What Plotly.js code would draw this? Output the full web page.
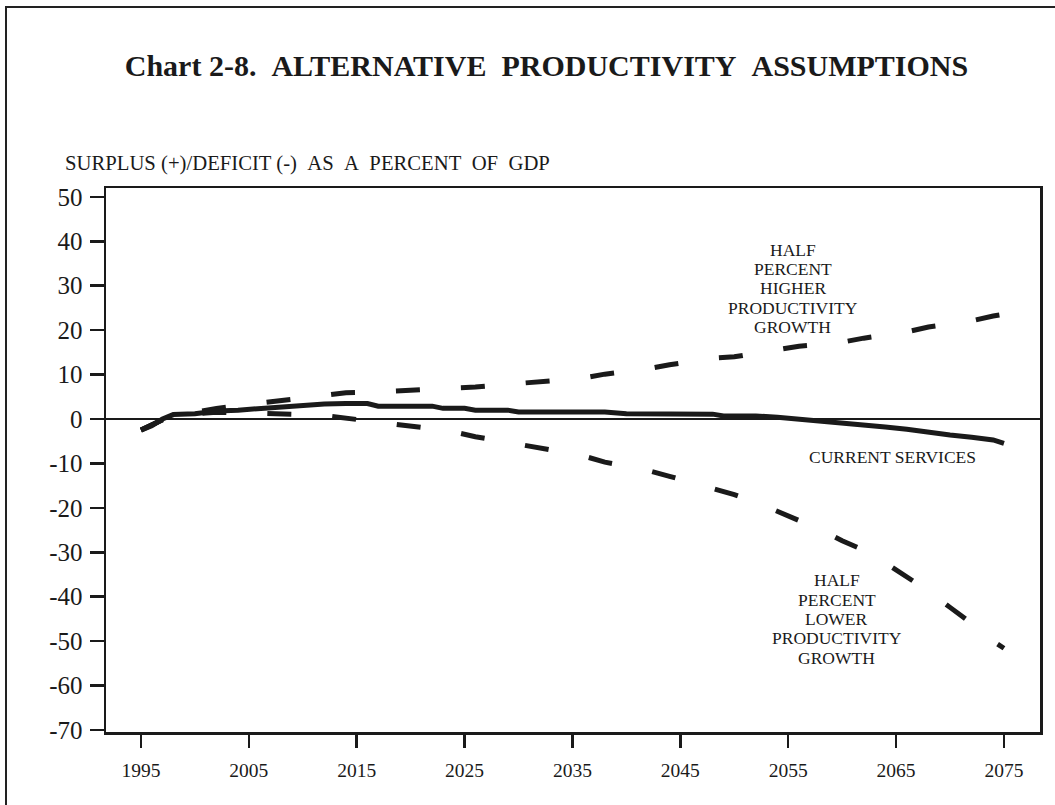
<!DOCTYPE html>
<html>
<head>
<meta charset="utf-8">
<script src="https://cdn.plot.ly/plotly-3.0.1.min.js"></script>
<style>
html,body{margin:0;padding:0;background:#fff;}
#wrap{position:relative;width:1055px;height:805px;}
#chart{position:absolute;left:0;top:0;width:1055px;height:805px;}
#frame{position:absolute;left:5px;top:6px;width:1100px;height:900px;border-left:2px solid #222;border-top:2px solid #222;pointer-events:none;}
</style>
</head>
<body>
<div id="wrap"><div id="chart"></div><div id="frame"></div></div>
<script>
// Current services (solid)
const yearsCurrent = [1995,1996,1997,1998,2000,2002,2004,2006,2008,2010,2012,2014,2016,2017,2020,2022,2023,2025,2026,2029,2030,2038,2040,2048,2049,2052,2054,2056,2058,2060,2062,2064,2066,2068,2070,2072,2074,2075];
const currentServices = [-2.5,-1.5,0,1,1.2,1.8,2.0,2.4,2.7,3.0,3.4,3.5,3.5,2.9,2.9,2.9,2.4,2.4,2.0,2.0,1.6,1.6,1.2,1.1,0.7,0.7,0.4,0.0,-0.5,-0.9,-1.3,-1.8,-2.3,-3.0,-3.6,-4.1,-4.7,-5.5];

// Alternative productivity scenarios (dashed)
const yearsAlt = [1995,1997,1998,2000,2002,2004,2006,2008,2010,2012,2014,2016,2018,2020,2022,2024,2026,2028,2030,2032,2034,2036,2038,2040,2042,2044,2046,2048,2050,2052,2054,2056,2058,2060,2062,2064,2066,2068,2070,2072,2074,2075];
const higherProductivity = [-2.5,0,1,1.5,2.4,3.0,3.6,4.0,4.6,5.2,5.9,6.0,6.3,6.4,6.7,7.0,7.2,7.6,8.1,8.4,8.8,9.2,10.1,10.7,11.3,12.2,13.0,13.7,14.0,14.8,15.5,16.4,16.8,17.3,18.2,18.9,19.6,20.7,21.5,22.1,23.2,23.6];
const lowerProductivity = [-2.5,0,1,1.2,1.5,1.4,1.3,1.3,1.0,0.8,0.2,-0.3,-0.8,-1.5,-2.2,-2.9,-4.0,-4.8,-5.6,-6.5,-7.4,-8.3,-9.7,-10.6,-11.6,-12.9,-14.2,-15.6,-17.0,-18.7,-20.7,-22.6,-24.9,-27.4,-29.5,-32.4,-35.5,-38.7,-42.4,-46.0,-50.0,-51.6];

// Axis ticks
const yTickVals = [50,40,30,20,10,0,-10,-20,-30,-40,-50,-60,-70];
const yTickText = ["50","40","30","20","10","0","-10","-20","-30","-40","-50","-60","-70"];
const xTickVals = [1995,2005,2015,2025,2035,2045,2055,2065,2075];
const xTickText = ["1995","2005","2015","2025","2035","2045","2055","2065","2075"];

// Texts
const chartTitle = "Chart 2-8.\u00a0\u00a0ALTERNATIVE\u00a0\u00a0PRODUCTIVITY\u00a0\u00a0ASSUMPTIONS";
const yAxisTitle = "SURPLUS (+)/DEFICIT (-)\u00a0\u00a0AS\u00a0\u00a0A\u00a0\u00a0PERCENT\u00a0\u00a0OF\u00a0\u00a0GDP";
const labelHigherLines = ["HALF","PERCENT","HIGHER","PRODUCTIVITY","GROWTH"];
const labelCurrent = "CURRENT SERVICES";
const labelLowerLines = ["HALF","PERCENT","LOWER","PRODUCTIVITY","GROWTH"];

const serif = "'Liberation Serif', 'Times New Roman', serif";
const ink = "#1a1a1a";
const lineGap = 19.4;

function stackedLabel(lines, xv, yv) {
  const mid = (lines.length - 1) / 2;
  return lines.map((t, i) => ({
    x: xv, y: yv, xref: "x", yref: "y", showarrow: false, text: t,
    xanchor: "center", yanchor: "middle", yshift: -(i - mid) * lineGap,
    font: {family: serif, size: 17.5, color: ink}
  }));
}

const traces = [
  {x: yearsAlt, y: lowerProductivity, mode: "lines", line: {color: ink, width: 5, dash: "24px,41px"}, hoverinfo: "skip"},
  {x: yearsAlt, y: higherProductivity, mode: "lines", line: {color: ink, width: 5, dash: "24px,41px"}, hoverinfo: "skip"},
  {x: yearsCurrent, y: currentServices, mode: "lines", line: {color: ink, width: 5}, hoverinfo: "skip"}
];

const layout = {
  width: 1055, height: 805,
  margin: {l: 106, r: 15, t: 188, b: 73},
  paper_bgcolor: "#fff", plot_bgcolor: "#fff",
  showlegend: false,
  font: {family: serif, color: ink},
  title: {text: "<b>" + chartTitle + "</b>", font: {family: serif, size: 30, color: ink}, x: 0.518, xanchor: "center", y: 0.919, yanchor: "middle"},
  xaxis: {
    range: [1991.76, 2078.34], showgrid: false, zeroline: false,
    showline: true, linecolor: ink, linewidth: 2.5, mirror: true,
    ticks: "outside", ticklen: 13, tickwidth: 2.5, tickcolor: ink,
    tickvals: xTickVals, ticktext: xTickText,
    tickfont: {family: serif, size: 19.5, color: ink}, ticklabelstandoff: 6
  },
  yaxis: {
    range: [-70.45, 52.0], showgrid: false,
    zeroline: true, zerolinecolor: ink, zerolinewidth: 2,
    showline: true, linecolor: ink, linewidth: 2.5, mirror: true,
    ticks: "outside", ticklen: 14, tickwidth: 2.5, tickcolor: ink,
    tickvals: yTickVals, ticktext: yTickText,
    tickfont: {family: serif, size: 25, color: ink}, ticklabelstandoff: 2
  },
  annotations: [
    {xref: "paper", yref: "paper", x: -0.046, y: 1.045, xanchor: "left", yanchor: "middle", showarrow: false,
     text: yAxisTitle, font: {family: serif, size: 20.7, color: ink}},
    ...stackedLabel(labelHigherLines, 2055.4, 29.4),
    {x: 2064.7, y: -8.55, xref: "x", yref: "y", showarrow: false, text: labelCurrent,
     xanchor: "center", yanchor: "middle", font: {family: serif, size: 17.5, color: ink}},
    ...stackedLabel(labelLowerLines, 2059.5, -45.0)
  ]
};

Plotly.newPlot("chart", traces, layout, {staticPlot: true, displayModeBar: false});
</script>
</body>
</html>
